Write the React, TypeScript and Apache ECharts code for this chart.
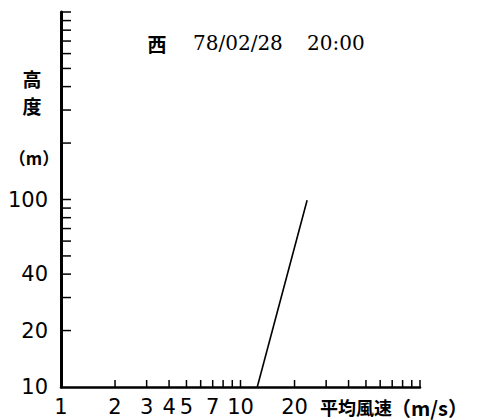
import React, { useEffect, useRef } from "react";
import * as echarts from "echarts";

// Mean wind speed profile (m/s) against height (m), log-log axes
const profileSpeed = [12.4, 23.5];
const profileHeight = [10, 99];

const xMin = 1;
const xMax = 100;
const yMin = 10;
const yMax = 1000;

const xTickValues = [2, 3, 4, 5, 6, 7, 8, 9, 10, 20, 30, 40, 50, 60, 70, 80, 90, 100];
const xTickLabels = [1, 2, 3, 4, 5, 7, 10, 20];
const yTickValues = [20, 30, 40, 50, 60, 70, 80, 90, 100, 200, 300, 400, 500, 600, 700, 800, 900, 1000];
const yTickLabels = [10, 20, 40, 100];

const titleSite = "西";
const titleDate = "78/02/28";
const titleTime = "20:00";
const xName = "平均風速";
const xUnit = "（m/s）";
const yName = ["高", "度"];
const yUnit = "（m）";

const NUM_FONT = 'normal 21px "DejaVu Sans"';
const CJK = '"Noto Sans CJK JP"';

export default function App() {
  const ref = useRef<HTMLDivElement>(null);

  useEffect(() => {
    if (!ref.current) return;
    const chart = echarts.init(ref.current, undefined, { renderer: "svg" });

    const axisBase = {
      type: "log" as const,
      logBase: 10,
      axisTick: { show: false },
      axisLabel: { show: false },
      splitLine: { show: false },
      minorTick: { show: false },
    };

    const label = (text: string, x: number, y: number, font: string, align = "center") => ({
      type: "text",
      x,
      y,
      style: { text, font, fill: "#000", textAlign: align, textVerticalAlign: "middle" },
    });

    chart.setOption({
      animation: false,
      backgroundColor: "#fff",
      grid: { left: 61, right: 65, top: 12, bottom: 33 },
      xAxis: {
        ...axisBase,
        min: xMin,
        max: xMax,
        axisLine: { show: true, onZero: false, lineStyle: { color: "#000", width: 2.5 } },
      },
      yAxis: {
        ...axisBase,
        min: yMin,
        max: yMax,
        axisLine: { show: true, onZero: false, lineStyle: { color: "#000", width: 3 } },
      },
      series: [
        {
          type: "line",
          data: profileSpeed.map((v, i) => [v, profileHeight[i]]),
          symbol: "none",
          lineStyle: { color: "#000", width: 1.6 },
        },
        {
          // inward ticks along the speed axis
          type: "custom",
          clip: false,
          data: xTickValues.map((v) => [v, yMin]),
          renderItem: (_p: any, api: any) => {
            const pt = api.coord([api.value(0), api.value(1)]);
            return {
              type: "line",
              shape: { x1: pt[0], y1: pt[1], x2: pt[0], y2: pt[1] - 7 },
              style: { stroke: "#000", lineWidth: 1.5 },
            };
          },
        },
        {
          type: "custom",
          clip: false,
          data: xTickLabels.map((v) => [v, yMin]),
          renderItem: (_p: any, api: any) => {
            const pt = api.coord([api.value(0), api.value(1)]);
            return label(String(api.value(0)), pt[0], pt[1] + 20, NUM_FONT);
          },
        },
        {
          // inward ticks along the height axis
          type: "custom",
          clip: false,
          data: yTickValues.map((v) => [xMin, v]),
          renderItem: (_p: any, api: any) => {
            const pt = api.coord([api.value(0), api.value(1)]);
            return {
              type: "line",
              shape: { x1: pt[0], y1: pt[1], x2: pt[0] + 10, y2: pt[1] },
              style: { stroke: "#000", lineWidth: 1.5 },
            };
          },
        },
        {
          type: "custom",
          clip: false,
          data: yTickLabels.map((v) => [xMin, v]),
          renderItem: (_p: any, api: any) => {
            const pt = api.coord([api.value(0), api.value(1)]);
            return label(String(api.value(1)), pt[0] - 13, pt[1], NUM_FONT, "right");
          },
        },
      ],
      graphic: [
        label(titleSite, 157, 43, `bold 19px ${CJK}`),
        label(titleDate, 193, 43, 'normal 20px "DejaVu Serif"', "left"),
        label(titleTime, 307, 43, 'normal 20px "DejaVu Serif"', "left"),
        label(yName[0], 32, 78, `bold 19px ${CJK}`),
        label(yName[1], 32, 105, `bold 19px ${CJK}`),
        label(yUnit, 34, 157, `bold 17px ${CJK}`),
        label(xName, 320, 407, `bold 18px ${CJK}`, "left"),
        label(xUnit, 391, 407, `bold 20px ${CJK}`, "left"),
      ],
    });

    return () => chart.dispose();
  }, []);

  return <div ref={ref} style={{ width: 485, height: 420, position: "absolute", left: 0, top: 0 }} />;
}
